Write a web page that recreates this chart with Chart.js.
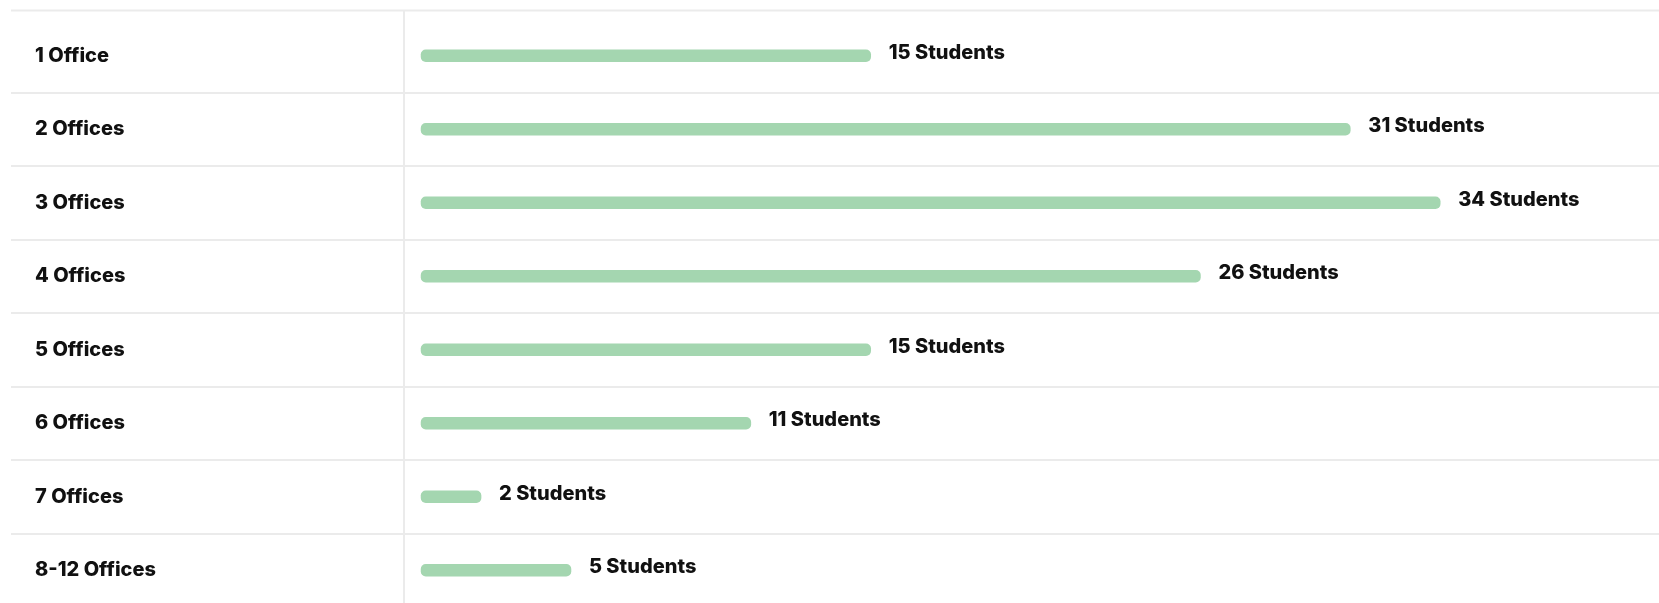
<!DOCTYPE html>
<html>
<head>
<meta charset="utf-8">
<script src="https://cdn.jsdelivr.net/npm/chart.js@4/dist/chart.umd.min.js"></script>
<style>
  html, body { margin: 0; padding: 0; background: #fff; overflow: hidden; }
  #wrap { position: relative; width: 1659px; height: 608px; }
</style>
</head>
<body>
<div id="wrap"><canvas id="offices"></canvas></div>
<script>
// Students per number of offices
const officeLabels = ['1 Office', '2 Offices', '3 Offices', '4 Offices', '5 Offices', '6 Offices', '7 Offices', '8-12 Offices'];
const studentCounts = [15, 31, 34, 26, 15, 11, 2, 5];

const barColor = '#a4d6b0';
const ruleColor = '#ebebeb';
const textColor = '#111111';
const labelFont = { family: 'Inter, "DejaVu Sans", sans-serif', size: 20, weight: '800' };

// Header rule above the first row, plus the column divider up to it
const headerRule = {
    id: 'headerRule',
    afterDraw(chart) {
        const { ctx, chartArea } = chart;
        const y = chart.scales.y;
        const top = chartArea.top - 8.5;
        ctx.save();
        ctx.strokeStyle = ruleColor;
        ctx.lineWidth = 2;
        ctx.beginPath();
        ctx.moveTo(y.right - y.options.grid.tickLength, top);
        ctx.lineTo(chartArea.right, top);
        ctx.moveTo(y.right, top);
        ctx.lineTo(y.right, chartArea.top);
        ctx.stroke();
        ctx.restore();
    }
};

// "N Students" after each bar
const valueLabels = {
    id: 'valueLabels',
    afterDatasetsDraw(chart) {
        const { ctx } = chart;
        const meta = chart.getDatasetMeta(0);
        ctx.save();
        ctx.font = `${labelFont.weight} ${labelFont.size}px ${labelFont.family}`;
        ctx.fillStyle = textColor;
        ctx.textAlign = 'left';
        ctx.textBaseline = 'middle';
        meta.data.forEach((bar, i) => {
            ctx.fillText(`${studentCounts[i]} Students`, bar.x + 18, bar.y - 3);
        });
        ctx.restore();
    }
};

new Chart(document.getElementById('offices'), {
    type: 'bar',
    data: {
        labels: officeLabels,
        datasets: [{
            data: studentCounts,
            backgroundColor: barColor,
            borderRadius: 5,
            borderSkipped: false,
            barThickness: 12
        }]
    },
    options: {
        indexAxis: 'y',
        responsive: true,
        maintainAspectRatio: false,
        animation: false,
        layout: {
            padding: { top: 19, left: 35, right: 0, bottom: 1 }
        },
        plugins: {
            legend: { display: false },
            tooltip: { enabled: false }
        },
        scales: {
            x: {
                display: false,
                min: -0.57,
                max: 41.3
            },
            y: {
                afterFit(scale) {
                    // fixed label column, and no extra room for half-labels
                    scale.width = 369;
                    scale.paddingTop = 0;
                    scale.paddingBottom = 0;
                },
                grid: {
                    color: (ctx) => ctx.index === 0 ? 'rgba(0,0,0,0)' : ruleColor,
                    lineWidth: 2,
                    drawTicks: true,
                    tickLength: 393
                },
                border: {
                    display: true,
                    color: ruleColor,
                    width: 2
                },
                ticks: {
                    crossAlign: 'far',
                    color: textColor,
                    font: labelFont
                }
            }
        }
    },
    plugins: [headerRule, valueLabels]
});
</script>
</body>
</html>
